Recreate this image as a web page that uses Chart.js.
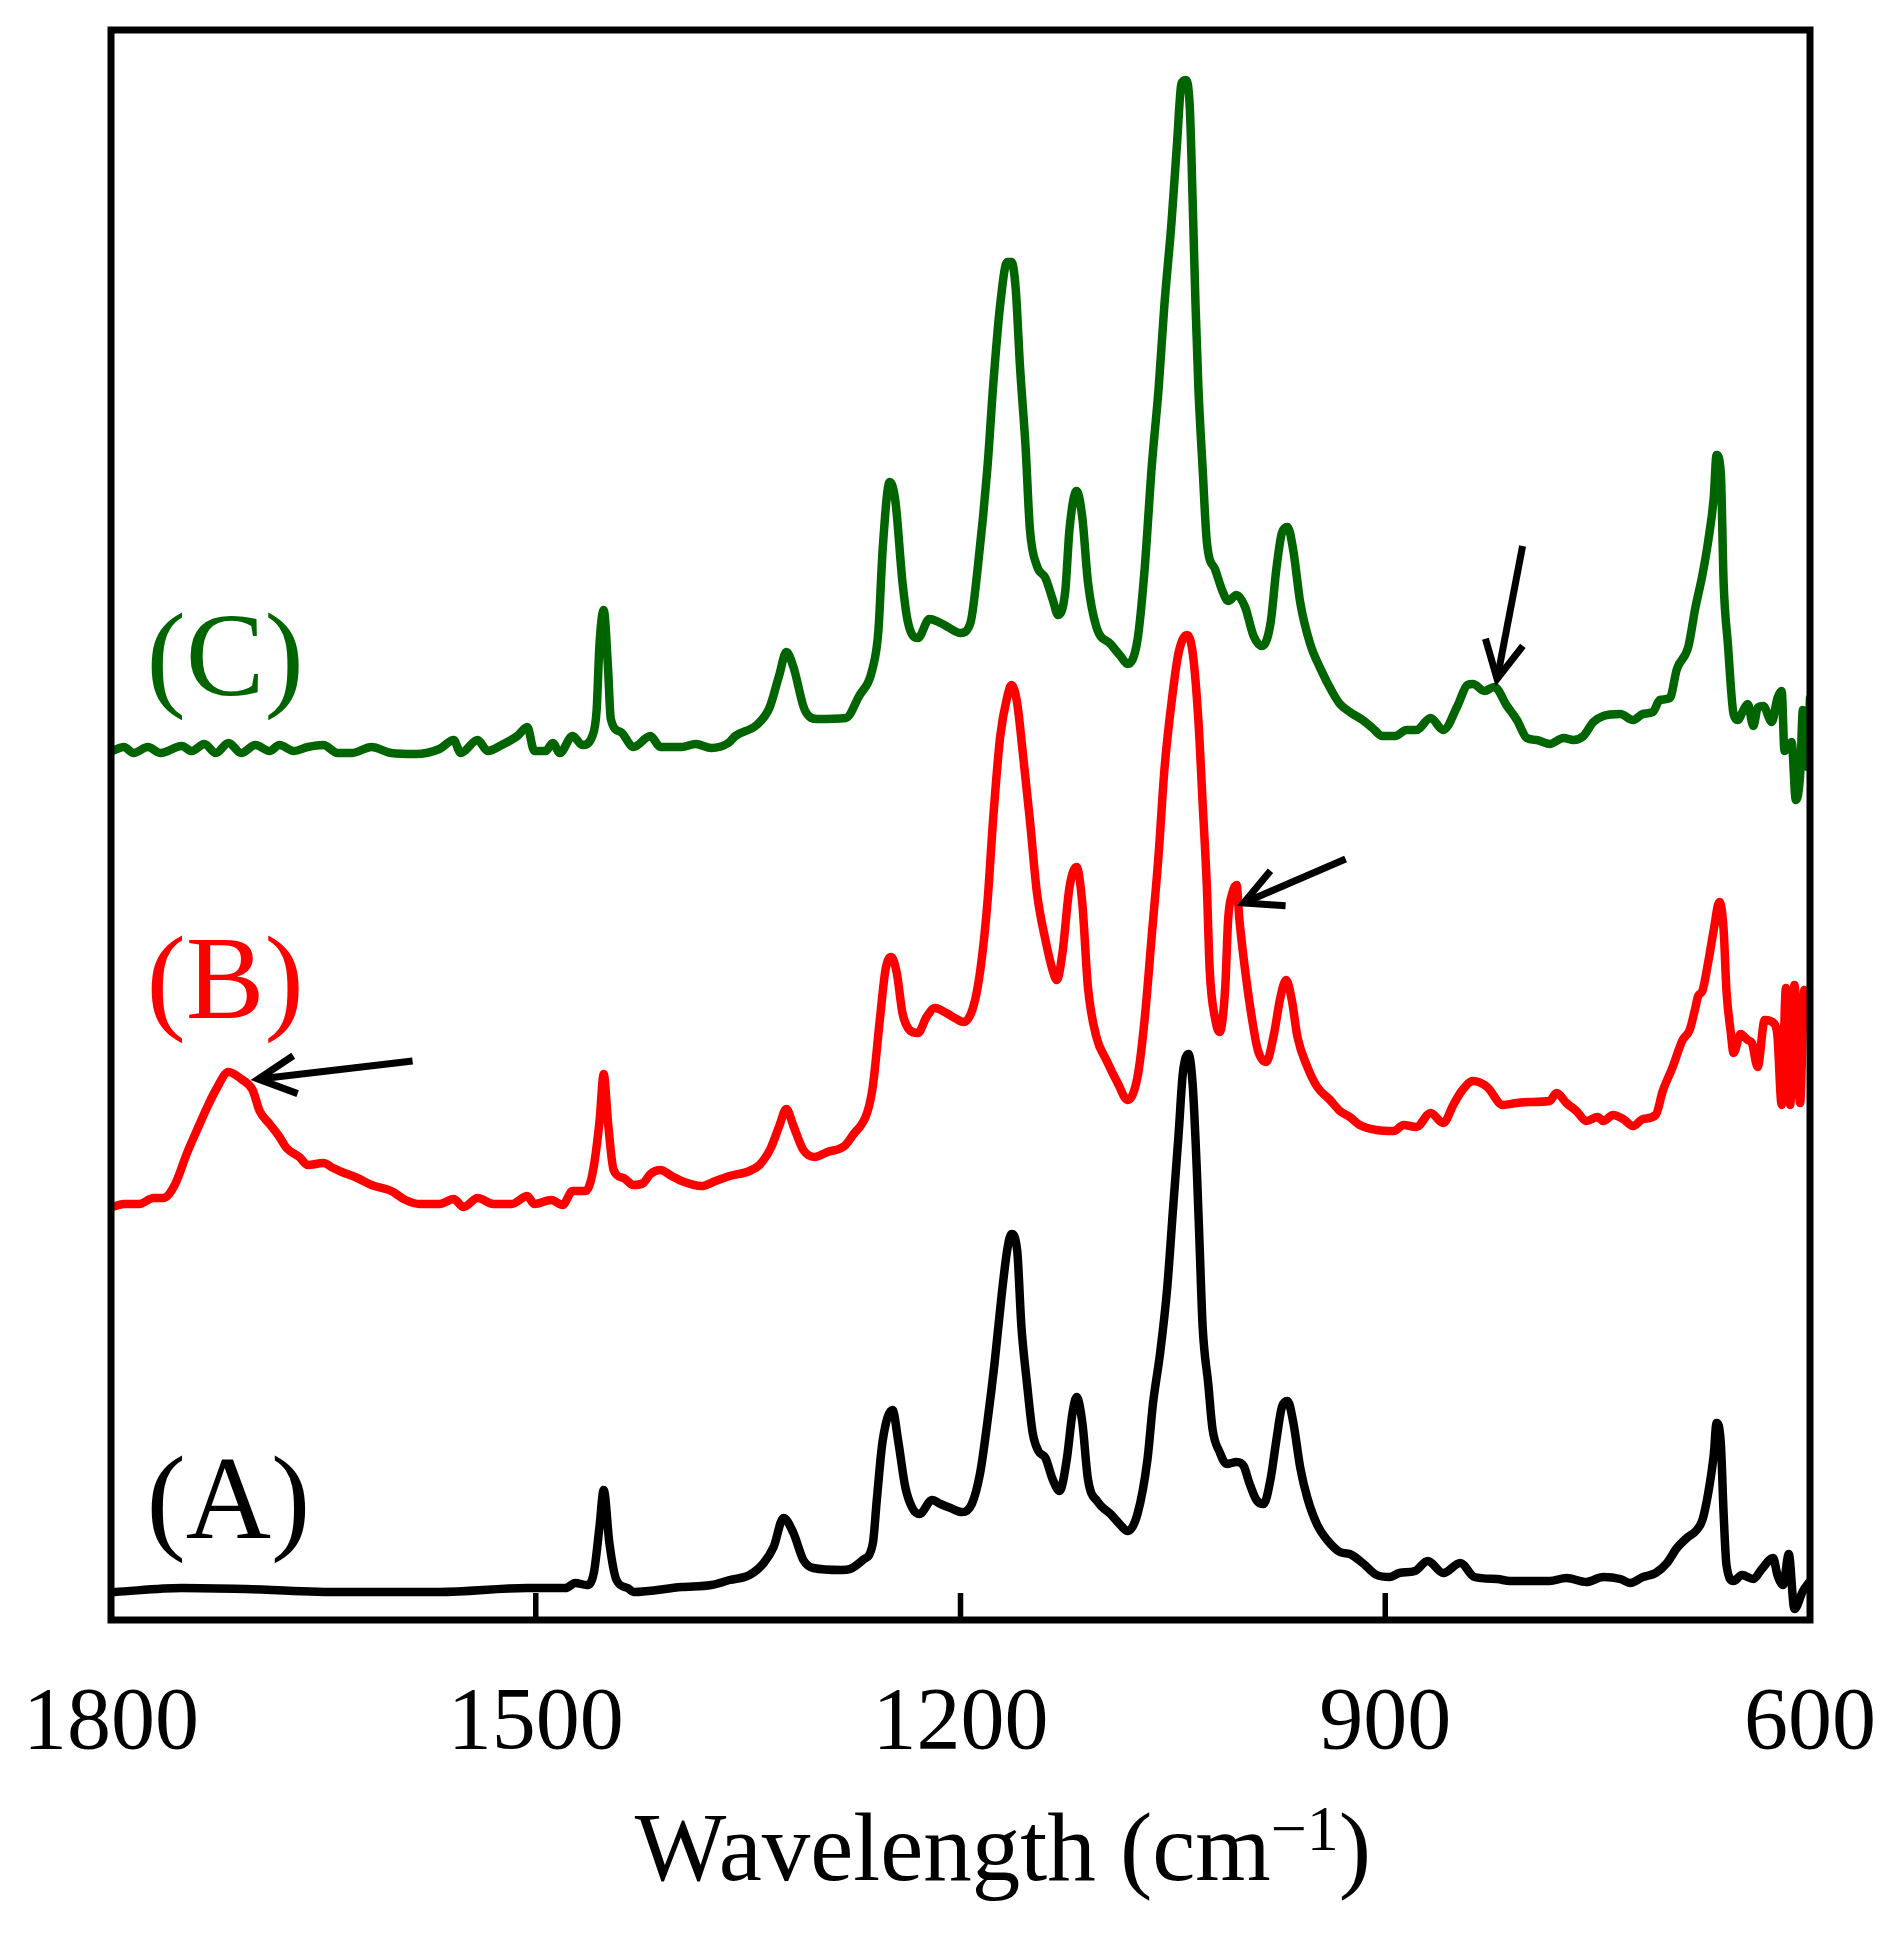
<!DOCTYPE html>
<html><head><meta charset="utf-8">
<script src="https://cdn.jsdelivr.net/npm/chart.js@4.4.1/dist/chart.umd.min.js"></script>
<style>html,body{margin:0;padding:0;background:#fff;}canvas{display:block;}</style>
</head><body>
<canvas id="c" width="1892" height="1958"></canvas>
<script>
// ---- data (wavenumber cm-1, intensity a.u., curves already offset as plotted) ----
const tickValues = [1800, 1500, 1200, 900, 600];
const tickLabels = ['1800', '1500', '1200', '900', '600'];
const seriesNames = ['(A)', '(B)', '(C)'];
const seriesColors = ['#000000', '#ff0000', '#006400'];

const spectrumA = [[1797,28],[1750,32],[1705,31],[1637,28],[1568,28],[1506,32],[1479,32],[1472,37],[1464,35],[1459,47],[1455,93],[1452,130],[1448,77],[1443,40],[1435,32],[1431,28],[1397,33],[1376,35],[1363,40],[1349,45],[1339,57],[1332,73],[1325,102],[1318,87],[1311,60],[1304,52],[1284,50],[1278,51],[1269,60],[1262,76],[1259,122],[1255,179],[1248,210],[1244,179],[1239,133],[1234,112],[1229,106],[1220,120],[1214,116],[1207,112],[1199,108],[1192,116],[1186,148],[1181,198],[1176,256],[1171,324],[1167,370],[1164,386],[1160,370],[1157,294],[1153,236],[1149,187],[1145,169],[1140,162],[1135,141],[1130,129],[1125,160],[1121,206],[1118,223],[1114,198],[1110,141],[1103,118],[1094,106],[1087,95],[1082,89],[1075,106],[1068,160],[1064,217],[1059,267],[1054,332],[1050,409],[1046,485],[1043,546],[1039,566],[1036,535],[1033,447],[1031,370],[1029,294],[1025,236],[1022,191],[1017,168],[1012,156],[1005,158],[1000,154],[996,137],[991,120],[986,116],[981,141],[977,179],[973,213],[969,219],[965,198],[960,152],[955,122],[948,95],[941,80],[932,68],[925,66],[916,57],[906,45],[897,43],[890,47],[879,49],[870,59],[859,47],[847,57],[837,43],[821,41],[812,39],[798,39],[784,39],[772,42],[758,38],[746,43],[734,41],[727,37],[718,43],[709,47],[701,57],[694,72],[687,82],[680,90],[676,100],[672,126],[668,165],[666,197],[663,177],[661,106],[659,55],[654,39],[648,45],[640,41],[634,51],[626,62],[623,45],[619,35],[615,66],[611,11],[605,29],[601,37]];

const spectrumB = [[1799,413],[1791,416],[1780,416],[1770,422],[1763,422],[1755,435],[1746,468],[1738,494],[1732,513],[1726,530],[1717,548],[1708,541],[1700,530],[1695,509],[1688,496],[1681,483],[1676,472],[1667,463],[1661,455],[1650,457],[1643,452],[1637,448],[1626,442],[1616,435],[1602,429],[1592,420],[1582,416],[1568,416],[1558,421],[1551,413],[1541,422],[1530,416],[1517,416],[1506,424],[1501,416],[1489,420],[1481,415],[1474,429],[1465,429],[1460,446],[1455,498],[1452,546],[1449,498],[1445,450],[1438,442],[1431,435],[1424,437],[1419,446],[1412,450],[1404,444],[1397,439],[1383,434],[1373,439],[1363,444],[1349,449],[1342,455],[1334,472],[1328,494],[1323,511],[1318,494],[1311,470],[1303,463],[1294,468],[1282,474],[1276,485],[1266,507],[1262,533],[1257,600],[1253,650],[1249,663],[1245,647],[1241,607],[1236,590],[1230,587],[1224,603],[1218,612],[1210,607],[1204,602],[1198,598],[1191,613],[1186,650],[1181,717],[1177,800],[1172,883],[1167,923],[1164,935],[1160,917],[1156,867],[1151,800],[1146,727],[1140,680],[1135,650],[1132,640],[1128,667],[1123,733],[1118,753],[1114,717],[1110,633],[1104,583],[1097,560],[1089,537],[1082,520],[1075,543],[1070,600],[1065,683],[1060,767],[1056,850],[1051,917],[1046,967],[1040,985],[1036,967],[1032,900],[1029,817],[1026,733],[1024,650],[1020,600],[1017,588],[1013,633],[1011,700],[1008,727],[1005,735],[1003,700],[999,650],[994,600],[990,570],[984,558],[979,583],[974,623],[970,640],[966,620],[962,583],[955,553],[948,533],[939,520],[932,509],[925,503],[918,495],[906,490],[894,489],[887,495],[878,493],[868,507],[859,497],[852,515],[846,529],[838,539],[828,533],[817,515],[807,517],[798,518],[784,519],[779,527],[772,517],[765,509],[758,499],[750,503],[746,499],[739,505],[732,501],[725,494],[718,501],[709,505],[704,529],[697,553],[690,580],[685,590],[681,612],[679,624],[676,629],[672,657],[668,690],[664,718],[661,690],[659,629],[656,588],[654,567],[649,586],[644,580],[641,577],[637,553],[632,600],[625,596],[623,584],[620,515],[617,632],[614,515],[611,635],[607,517],[604,630],[601,610]];

const spectrumC = [[1799,869],[1791,873],[1784,867],[1774,873],[1765,867],[1750,874],[1743,869],[1734,876],[1726,867],[1717,877],[1708,867],[1698,875],[1688,869],[1681,875],[1671,869],[1661,873],[1650,875],[1640,867],[1630,867],[1616,873],[1602,867],[1585,866],[1568,871],[1558,880],[1553,867],[1541,880],[1534,869],[1524,875],[1513,884],[1506,893],[1501,869],[1493,869],[1488,877],[1483,867],[1474,884],[1467,875],[1460,884],[1457,910],[1455,975],[1452,1010],[1449,953],[1447,901],[1440,888],[1431,873],[1419,884],[1412,873],[1397,873],[1387,876],[1376,872],[1364,877],[1359,884],[1344,895],[1335,912],[1328,945],[1323,968],[1318,953],[1310,910],[1301,901],[1281,902],[1272,923],[1262,952],[1258,989],[1255,1070],[1250,1138],[1246,1119],[1241,1038],[1237,997],[1230,982],[1222,1001],[1214,997],[1209,993],[1200,987],[1193,997],[1188,1050],[1181,1152],[1177,1233],[1172,1315],[1167,1358],[1164,1358],[1161,1331],[1158,1254],[1154,1172],[1151,1091],[1146,1054],[1140,1042],[1135,1021],[1131,1005],[1126,1029],[1123,1091],[1118,1129],[1114,1103],[1110,1038],[1104,993],[1094,976],[1087,964],[1082,956],[1075,980],[1070,1050],[1065,1152],[1060,1233],[1056,1315],[1051,1397],[1047,1478],[1044,1536],[1041,1540],[1038,1511],[1036,1417],[1034,1315],[1032,1233],[1029,1152],[1026,1078],[1020,1050],[1015,1029],[1011,1019],[1005,1025],[999,1013],[993,984],[987,974],[981,997],[977,1050],[973,1087],[969,1093],[965,1070],[960,1017],[953,976],[946,952],[937,927],[932,916],[925,908],[916,900],[909,892],[902,884],[893,884],[885,890],[878,890],[868,902],[859,890],[849,914],[842,935],[838,936],[830,929],[823,933],[814,914],[807,900],[800,882],[793,880],[784,876],[774,882],[767,880],[760,884],[753,898],[746,904],[734,906],[725,900],[718,906],[711,908],[706,920],[699,922],[694,951],[686,973],[681,1012],[676,1045],[672,1078],[668,1122],[666,1165],[663,1147],[661,1037],[658,976],[654,906],[651,900],[647,910],[644,916],[640,894],[637,912],[633,914],[627,898],[623,922],[620,929],[618,869],[613,878],[610,820],[607,845],[605,910],[602,853],[600,922]];

// annotation arrows: [tail wavenumber, tail intensity, tip wavenumber, tip intensity]
const arrowB1 = [1587, 559, 1696, 541];
const arrowB2 = [928, 761, 1000, 717];
const arrowC  = [803, 1074, 821, 941];
// curve label anchors: [wavenumber, intensity] (left / baseline)
const labelA = [1775, 82];
const labelB = [1775, 602];
const labelC = [1775, 925];

const xTitle = 'Wavelength (cm';
const xTitleSup = '\u22121';
const xTitleEnd = ')';

const toPts = s => s.map(p => ({x: p[0], y: p[1]}));

const overlay = {
  id: 'overlay',
  afterDatasetsDraw(chart) {
    const {ctx, chartArea: a, scales: {x, y}} = chart;
    ctx.save();
    // inner ticks on bottom axis
    ctx.strokeStyle = '#000';
    ctx.lineWidth = 5.5;
    ctx.lineCap = 'butt';
    tickValues.forEach(v => {
      if (v === 1800 || v === 600) return;
      const px = x.getPixelForValue(v);
      ctx.beginPath();
      ctx.moveTo(px, a.bottom);
      ctx.lineTo(px, a.bottom - 27);
      ctx.stroke();
    });
    // frame
    ctx.lineWidth = 7;
    ctx.lineJoin = 'miter';
    ctx.strokeRect(a.left, a.top, a.right - a.left, a.bottom - a.top);
    // arrows
    [arrowB1, arrowB2, arrowC].forEach(ar => {
      const tx = x.getPixelForValue(ar[0]), ty = y.getPixelForValue(ar[1]);
      const hx = x.getPixelForValue(ar[2]), hy = y.getPixelForValue(ar[3]);
      const ang = Math.atan2(ty - hy, tx - hx);
      const L = 42, spread = 27 * Math.PI / 180;
      ctx.lineWidth = 7;
      ctx.lineCap = 'butt';
      ctx.beginPath();
      ctx.moveTo(tx, ty);
      ctx.lineTo(hx + Math.cos(ang) * 3, hy + Math.sin(ang) * 3);
      ctx.stroke();
      ctx.beginPath();
      ctx.moveTo(hx + Math.cos(ang - spread) * L, hy + Math.sin(ang - spread) * L);
      ctx.lineTo(hx, hy);
      ctx.lineTo(hx + Math.cos(ang + spread) * L, hy + Math.sin(ang + spread) * L);
      ctx.stroke();
    });
    // curve labels
    ctx.font = '118px "Liberation Serif", "Times New Roman", serif';
    ctx.textAlign = 'left';
    ctx.textBaseline = 'alphabetic';
    [labelA, labelB, labelC].forEach((l, i) => {
      ctx.fillStyle = seriesColors[i];
      ctx.fillText(seriesNames[i], x.getPixelForValue(l[0]), y.getPixelForValue(l[1]));
    });
    ctx.restore();
  },
  afterDraw(chart) {
    const ctx = chart.ctx;
    ctx.save();
    ctx.fillStyle = '#000';
    ctx.textBaseline = 'alphabetic';
    ctx.textAlign = 'left';
    const mainFont = '97px "Liberation Serif", "Times New Roman", serif';
    const supFont = '64px "Liberation Serif", "Times New Roman", serif';
    ctx.font = mainFont;
    const w1 = ctx.measureText(xTitle).width;
    const w3 = ctx.measureText(xTitleEnd).width;
    ctx.font = supFont;
    const w2 = ctx.measureText(xTitleSup).width;
    const total = w1 + w2 + w3;
    const cx = 1003, base = 1880;
    let sx = cx - total / 2;
    ctx.font = mainFont;
    ctx.fillText(xTitle, sx, base);
    ctx.font = supFont;
    ctx.fillText(xTitleSup, sx + w1, base - 30);
    ctx.font = mainFont;
    ctx.fillText(xTitleEnd, sx + w1 + w2, base);
    ctx.restore();
  }
};

const lineStyle = {borderWidth: 8.5, tension: 0.3, cubicInterpolationMode: 'monotone',
  borderJoinStyle: 'round', borderCapStyle: 'round', fill: false, pointRadius: 0};

new Chart(document.getElementById('c'), {
  type: 'line',
  data: {
    datasets: [
      Object.assign({label: seriesNames[0], data: toPts(spectrumA), borderColor: seriesColors[0]}, lineStyle),
      Object.assign({label: seriesNames[1], data: toPts(spectrumB), borderColor: seriesColors[1]}, lineStyle),
      Object.assign({label: seriesNames[2], data: toPts(spectrumC), borderColor: seriesColors[2]}, lineStyle)
    ]
  },
  options: {
    responsive: false,
    animation: false,
    devicePixelRatio: 1,
    layout: {padding: {left: 111, right: 82, top: 30, bottom: 0}},
    elements: {point: {radius: 0, hitRadius: 0, hoverRadius: 0}},
    plugins: {legend: {display: false}, tooltip: {enabled: false}},
    scales: {
      x: {
        type: 'linear',
        reverse: true,
        min: 600, max: 1800,
        grid: {display: false, drawTicks: false},
        border: {display: false},
        afterBuildTicks: s => { s.ticks = tickValues.map(v => ({value: v})); },
        afterFit: s => { s.height = 338; s.paddingLeft = 0; s.paddingRight = 0; },
        ticks: {
          autoSkip: false,
          maxRotation: 0,
          padding: 52,
          color: '#000',
          font: {family: '"Liberation Serif", "Times New Roman", serif', size: 88},
          callback: (v) => tickLabels[tickValues.indexOf(v)]
        }
      },
      y: {
        type: 'linear',
        display: false,
        min: 0, max: 1590
      }
    }
  },
  plugins: [overlay]
});
</script>
</body></html>
